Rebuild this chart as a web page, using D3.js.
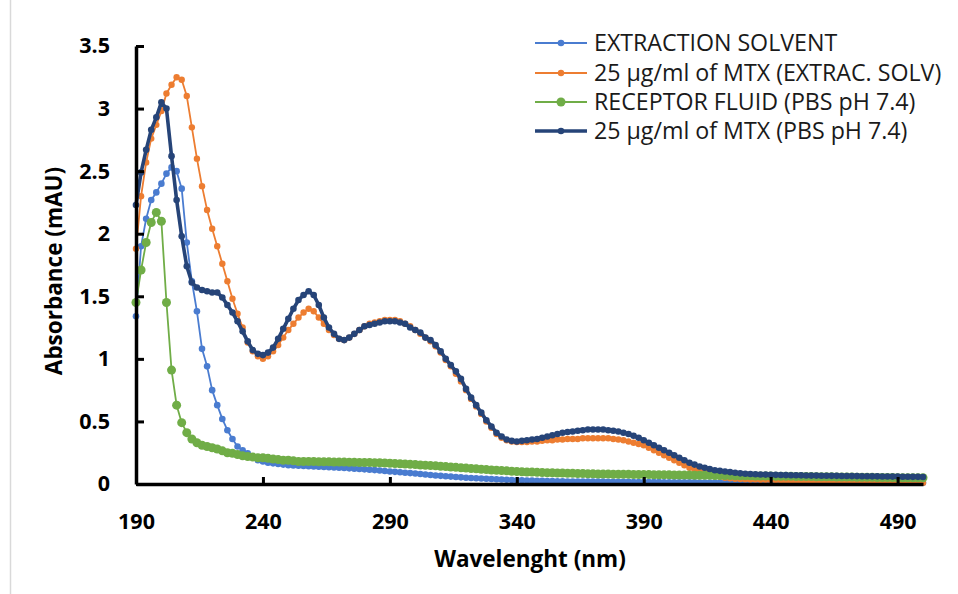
<!DOCTYPE html>
<html>
<head>
<meta charset="utf-8">
<script src="https://cdn.jsdelivr.net/npm/d3@7"></script>
<style>
  body { margin: 0; background: #fff; }
  svg { display: block; }
</style>
</head>
<body>
<svg id="chart"></svg>
<script>

// wavelength grid of the scan (nm), one reading every 2 nm
const startNm = 190, endNm = 500, stepNm = 2;
const wavelengths = d3.range(startNm, endNm + 1, stepNm);

const xTicks = [190, 240, 290, 340, 390, 440, 490];
const yTicks = [0, 0.5, 1, 1.5, 2, 2.5, 3, 3.5];

const seriesNames = [
  "EXTRACTION SOLVENT",
  "25 µg/ml of MTX (EXTRAC. SOLV)",
  "RECEPTOR FLUID (PBS pH 7.4)",
  "25 µg/ml of MTX (PBS pH 7.4)"
];

// absorbance values, 190..500 nm
const extractionSolvent = [
  1.34, 1.90, 2.12, 2.27, 2.33, 2.40, 2.48, 2.53, 2.50, 2.36,
  1.93, 1.62, 1.38, 1.08, 0.94, 0.75, 0.63, 0.52, 0.43, 0.36,
  0.30, 0.27, 0.245, 0.215, 0.19, 0.18, 0.17, 0.165, 0.16, 0.155,
  0.15, 0.148, 0.146, 0.144, 0.142, 0.14, 0.138, 0.136, 0.134, 0.132,
  0.13, 0.128, 0.125, 0.122, 0.12, 0.117, 0.114, 0.111, 0.108, 0.104,
  0.10, 0.097, 0.094, 0.09, 0.087, 0.084, 0.08, 0.076, 0.072, 0.068,
  0.065, 0.062, 0.059, 0.056, 0.053, 0.05, 0.048, 0.046, 0.044, 0.042,
  0.04, 0.038, 0.036, 0.034, 0.032, 0.03, 0.029, 0.028, 0.027, 0.026,
  0.025, 0.024, 0.023, 0.022, 0.021, 0.02, 0.02, 0.02, 0.02, 0.02,
  0.02, 0.019, 0.019, 0.018, 0.018, 0.018, 0.017, 0.017, 0.016, 0.016,
  0.016, 0.015, 0.015, 0.015, 0.014, 0.014, 0.014, 0.013, 0.013, 0.013,
  0.013, 0.012, 0.012, 0.012, 0.012, 0.012, 0.011, 0.011, 0.011, 0.011,
  0.011, 0.011, 0.011, 0.01, 0.01, 0.01, 0.01, 0.01, 0.01, 0.01,
  0.01, 0.01, 0.01, 0.01, 0.01, 0.01, 0.01, 0.01, 0.01, 0.01,
  0.01, 0.01, 0.01, 0.01, 0.01, 0.01, 0.01, 0.01, 0.01, 0.01,
  0.01, 0.01, 0.01, 0.01, 0.01, 0.01
];

const mtxExtraction = [
  1.88, 2.30, 2.57, 2.76, 2.87, 2.98, 3.12, 3.19, 3.25, 3.23,
  3.10, 2.85, 2.60, 2.38, 2.19, 2.04, 1.90, 1.76, 1.62, 1.48,
  1.36, 1.25, 1.13, 1.06, 1.02, 1.00, 1.02, 1.06, 1.11, 1.17,
  1.23, 1.28, 1.33, 1.37, 1.40, 1.38, 1.33, 1.28, 1.23, 1.19,
  1.16, 1.15, 1.17, 1.20, 1.23, 1.26, 1.28, 1.29, 1.30, 1.31,
  1.31, 1.31, 1.30, 1.28, 1.26, 1.23, 1.20, 1.17, 1.14, 1.10,
  1.05, 0.99, 0.94, 0.88, 0.82, 0.75, 0.68, 0.62, 0.56, 0.50,
  0.45, 0.40, 0.37, 0.35, 0.34, 0.335, 0.335, 0.335, 0.34, 0.34,
  0.345, 0.35, 0.35, 0.355, 0.355, 0.36, 0.36, 0.36, 0.365, 0.365,
  0.365, 0.365, 0.365, 0.365, 0.36, 0.355, 0.35, 0.34, 0.33, 0.32,
  0.31, 0.29, 0.27, 0.25, 0.23, 0.21, 0.19, 0.17, 0.15, 0.13,
  0.115, 0.10, 0.09, 0.08, 0.07, 0.06, 0.05, 0.045, 0.042, 0.04,
  0.038, 0.036, 0.035, 0.034, 0.033, 0.032, 0.031, 0.03, 0.028, 0.026,
  0.023, 0.02, 0.016, 0.013, 0.011, 0.01, 0.01, 0.01, 0.01, 0.01,
  0.01, 0.01, 0.01, 0.01, 0.01, 0.01, 0.01, 0.01, 0.01, 0.01,
  0.01, 0.01, 0.01, 0.01, 0.01, 0.01
];

const receptorFluid = [
  1.45, 1.71, 1.93, 2.09, 2.17, 2.10, 1.45, 0.91, 0.63, 0.49,
  0.41, 0.36, 0.33, 0.31, 0.30, 0.29, 0.28, 0.265, 0.25, 0.245,
  0.235, 0.225, 0.22, 0.215, 0.21, 0.21, 0.205, 0.20, 0.195, 0.19,
  0.19, 0.185, 0.18, 0.18, 0.18, 0.18, 0.178, 0.178, 0.177, 0.176,
  0.175, 0.175, 0.174, 0.173, 0.172, 0.172, 0.171, 0.17, 0.17, 0.168,
  0.166, 0.164, 0.162, 0.16, 0.157, 0.155, 0.152, 0.15, 0.147, 0.145,
  0.142, 0.139, 0.136, 0.133, 0.13, 0.127, 0.124, 0.121, 0.118, 0.115,
  0.112, 0.11, 0.107, 0.105, 0.102, 0.1, 0.098, 0.096, 0.095, 0.093,
  0.092, 0.09, 0.089, 0.088, 0.087, 0.086, 0.085, 0.084, 0.083, 0.082,
  0.081, 0.08, 0.079, 0.079, 0.078, 0.078, 0.077, 0.077, 0.076, 0.076,
  0.075, 0.075, 0.074, 0.074, 0.073, 0.073, 0.072, 0.072, 0.071, 0.071,
  0.07, 0.07, 0.069, 0.069, 0.068, 0.068, 0.067, 0.067, 0.066, 0.066,
  0.065, 0.065, 0.064, 0.064, 0.063, 0.063, 0.062, 0.062, 0.061, 0.061,
  0.06, 0.06, 0.059, 0.059, 0.058, 0.058, 0.057, 0.057, 0.056, 0.056,
  0.055, 0.055, 0.054, 0.054, 0.053, 0.053, 0.052, 0.052, 0.051, 0.051,
  0.05, 0.05, 0.05, 0.05, 0.05, 0.05
];

const mtxPbs = [
  2.23, 2.49, 2.67, 2.83, 2.93, 3.05, 3.00, 2.62, 2.27, 1.98,
  1.74, 1.61, 1.57, 1.55, 1.54, 1.53, 1.53, 1.49, 1.43, 1.37,
  1.30, 1.22, 1.14, 1.07, 1.04, 1.03, 1.05, 1.09, 1.16, 1.24,
  1.32, 1.40, 1.47, 1.51, 1.54, 1.51, 1.43, 1.33, 1.25, 1.20,
  1.16, 1.15, 1.17, 1.20, 1.23, 1.26, 1.27, 1.28, 1.29, 1.30,
  1.30, 1.30, 1.29, 1.28, 1.25, 1.23, 1.21, 1.17, 1.15, 1.11,
  1.06, 1.00, 0.95, 0.90, 0.84, 0.76, 0.69, 0.63, 0.57, 0.51,
  0.46, 0.41, 0.38, 0.355, 0.345, 0.34, 0.345, 0.35, 0.355, 0.36,
  0.37, 0.38, 0.39, 0.40, 0.41, 0.415, 0.42, 0.425, 0.43, 0.435,
  0.435, 0.435, 0.435, 0.43, 0.425, 0.42, 0.41, 0.40, 0.385, 0.37,
  0.35, 0.33, 0.31, 0.29, 0.27, 0.25, 0.23, 0.21, 0.19, 0.17,
  0.155, 0.14, 0.13, 0.12, 0.11, 0.105, 0.10, 0.095, 0.09, 0.085,
  0.082, 0.08, 0.078, 0.076, 0.075, 0.074, 0.073, 0.072, 0.071, 0.07,
  0.07, 0.069, 0.068, 0.067, 0.067, 0.066, 0.066, 0.065, 0.065, 0.064,
  0.064, 0.063, 0.063, 0.062, 0.062, 0.061, 0.061, 0.06, 0.06, 0.059,
  0.059, 0.058, 0.058, 0.057, 0.057, 0.056
];

// drawing order as in the original (last one on top)
const seriesValues = [extractionSolvent, mtxExtraction, receptorFluid, mtxPbs];
const seriesColors = ["#4A7CD0", "#ED7D31", "#70AD47", "#264478"];
const lineWidths = [1.8, 1.8, 1.8, 3.6];
const markerRadius = [3.3, 3.2, 4.5, 3.3];

let width = 958, height = 594;
let plotLeft = 136, plotRight = 923, plotTop = 46, plotBottom = 484;

let svg = d3.select("#chart")
  .attr("width", width)
  .attr("height", height)
  .attr("viewBox", [0, 0, width, height]);

svg.append("rect")
  .attr("width", width)
  .attr("height", height)
  .attr("fill", "#fff");

// chart area frame (only its left edge is visible in the crop)
svg.append("line")
  .attr("x1", 10.5).attr("x2", 10.5)
  .attr("y1", 0).attr("y2", height)
  .attr("stroke", "#d9d9d9")
  .attr("stroke-width", 1.5);

let x = d3.scaleLinear().domain([startNm, endNm]).range([plotLeft, plotRight]);
let y = d3.scaleLinear().domain([0, 3.5]).range([plotBottom, plotTop]);

let tickFont = "'Open Sans', 'DejaVu Sans', sans-serif";

// series
let line = d3.line()
  .x((d, i) => x(wavelengths[i]))
  .y(d => y(d));

let seriesG = svg.append("g").attr("class", "series");

seriesValues.forEach(function (vals, k) {
  let g = seriesG.append("g");
  g.append("path")
    .datum(vals)
    .attr("fill", "none")
    .attr("stroke", seriesColors[k])
    .attr("stroke-width", lineWidths[k])
    .attr("stroke-linejoin", "round")
    .attr("d", line);
  g.selectAll("circle")
    .data(vals)
    .join("circle")
    .attr("cx", (d, i) => x(wavelengths[i]))
    .attr("cy", d => y(d))
    .attr("r", markerRadius[k])
    .attr("fill", seriesColors[k]);
});

// axes
let xAxis = d3.axisBottom(x)
  .tickValues(xTicks)
  .tickSizeInner(-7)
  .tickSizeOuter(0)
  .tickPadding(30);

let yAxis = d3.axisLeft(y)
  .tickValues(yTicks)
  .tickFormat(d3.format("~g"))
  .tickSizeInner(-8)
  .tickSizeOuter(0)
  .tickPadding(26);

let gx = svg.append("g")
  .attr("transform", `translate(0,${plotBottom})`)
  .call(xAxis);

let gy = svg.append("g")
  .attr("transform", `translate(${plotLeft},0)`)
  .call(yAxis);

[gx, gy].forEach(function (g) {
  g.select(".domain").attr("stroke", "#000").attr("stroke-width", 3.5);
  g.selectAll(".tick line").attr("stroke", "#000").attr("stroke-width", 3);
  g.selectAll(".tick text")
    .attr("fill", "#000")
    .style("font-family", tickFont)
    .style("font-weight", "bold")
    .style("font-size", "21.5px");
});
gx.selectAll(".tick").filter(d => d === 190).select("line").remove();

// axis titles
svg.append("text")
  .attr("transform", `translate(62,${271}) rotate(-90)`)
  .attr("text-anchor", "middle")
  .style("font-family", tickFont)
  .style("font-weight", "bold")
  .style("font-size", "22.5px")
  .text("Absorbance (mAU)");

svg.append("text")
  .attr("x", 530)
  .attr("y", 567)
  .attr("text-anchor", "middle")
  .style("font-family", tickFont)
  .style("font-weight", "bold")
  .style("font-size", "22.5px")
  .text("Wavelenght (nm)");

// legend
let legendRows = [43, 73, 102, 131];
let legend = svg.append("g").attr("class", "legend");

seriesNames.forEach(function (name, k) {
  let row = legend.append("g").attr("transform", `translate(0,${legendRows[k]})`);
  row.append("line")
    .attr("x1", 535).attr("x2", 587)
    .attr("stroke", seriesColors[k])
    .attr("stroke-width", lineWidths[k]);
  row.append("circle")
    .attr("cx", 561)
    .attr("r", markerRadius[k])
    .attr("fill", seriesColors[k]);
  row.append("text")
    .attr("x", 594)
    .attr("y", 8)
    .attr("fill", "#1a1a1a")
    .style("font-family", tickFont)
    .style("font-size", "23.2px")
    .text(name);
});

</script>
</body>
</html>
